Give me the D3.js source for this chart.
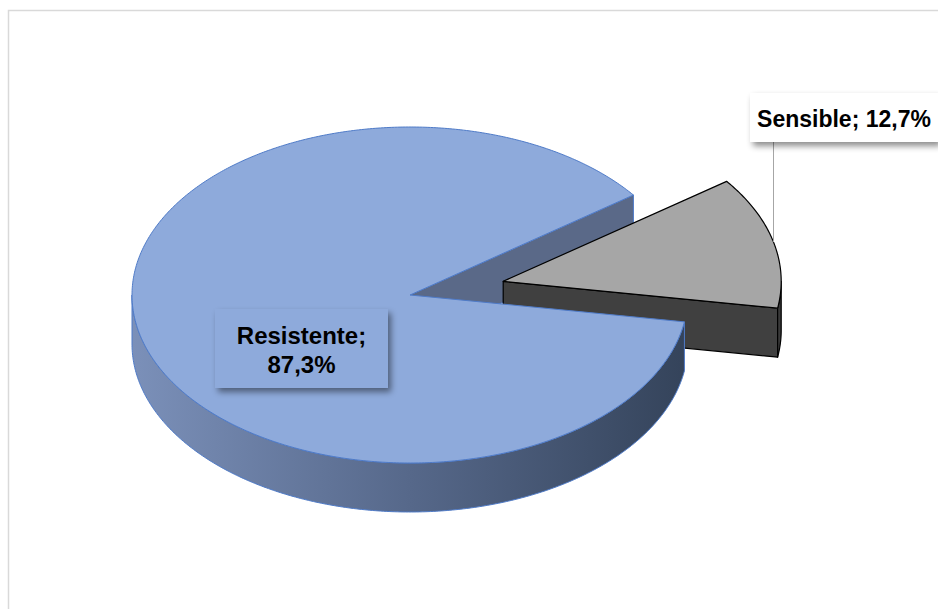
<!DOCTYPE html>
<html>
<head>
<meta charset="utf-8">
<script src="https://cdn.jsdelivr.net/npm/d3@7"></script>
<style>
  html, body { margin: 0; padding: 0; background: #fff; }
  svg { display: block; }
  text { font-family: "Liberation Sans", Arial, sans-serif; font-weight: bold; fill: #000; }
</style>
</head>
<body>
<svg id="chart" width="938" height="609"></svg>
<script>
// ---- data ----
const categories = ["Resistente", "Sensible"];
const values = [87.3, 12.7];
const valueLabels = ["87,3%", "12,7%"];
const exploded = [false, true];

// ---- layout ----
const W = 938, H = 609;
const cx = 410, cy = 295, rx = 278, ry = 168, depth = 49, explodeFrac = 0.345;
const startDeg = 99.2;

const svg = d3.select("#chart");
const defs = svg.append("defs");

// chart area border
svg.append("rect").attr("x", 8.5).attr("y", 10.5).attr("width", 960).attr("height", 640)
  .attr("fill", "#fff").attr("stroke", "#d9d9d9").attr("stroke-width", 1.5);

const shadow = defs.append("filter").attr("id", "shadow")
  .attr("x", "-20%").attr("y", "-30%").attr("width", "140%").attr("height", "170%");
shadow.append("feDropShadow").attr("dx", 3).attr("dy", 4).attr("stdDeviation", 3)
  .attr("flood-color", "#000").attr("flood-opacity", 0.45);

const gradB = defs.append("linearGradient").attr("id", "sideBlue")
  .attr("gradientUnits", "userSpaceOnUse").attr("x1", cx - rx).attr("x2", cx + rx).attr("y1", 0).attr("y2", 0);
gradB.append("stop").attr("offset", 0).attr("stop-color", "#7b90b9");
gradB.append("stop").attr("offset", 0.5).attr("stop-color", "#56688a");
gradB.append("stop").attr("offset", 1).attr("stop-color", "#34435a");

const styles = [
  { top: "#8eaadb", side: "url(#sideBlue)", cut: "#5a6988", stroke: "#4f7bc8", sw: 1 },
  { top: "#a6a6a6", side: "#3a3a3a", cut: "#404040", stroke: "#000", sw: 1.2 }
];

const pie = d3.pie().sort(null).value(d => d)
  .startAngle(startDeg * Math.PI / 180).endAngle(startDeg * Math.PI / 180 + 2 * Math.PI);
const arcs = pie(values);

const line = d3.line();
function pt(c, a, dz) { return [c[0] + rx * Math.sin(a), c[1] - ry * Math.cos(a) + dz]; }
function arcPts(c, a0, a1, dz) {
  const n = Math.max(2, Math.ceil(Math.abs(a1 - a0) / 0.01));
  return d3.range(n + 1).map(i => pt(c, a0 + (a1 - a0) * i / n, dz));
}
function centerOf(d, i) {
  if (!exploded[i]) return [cx, cy];
  const m = (d.startAngle + d.endAngle) / 2;
  return [cx + explodeFrac * rx * Math.sin(m), cy - explodeFrac * ry * Math.cos(m)];
}
function topPath(c, d) {
  return line([c, ...arcPts(c, d.startAngle, d.endAngle, 0)]) + "Z";
}
function sidePaths(c, d) {
  const out = [];
  for (let k = -1; k <= 2; k++) {
    const lo = Math.PI / 2 + 2 * Math.PI * k, hi = 3 * Math.PI / 2 + 2 * Math.PI * k;
    const s = Math.max(lo, d.startAngle), e = Math.min(hi, d.endAngle);
    if (e > s) out.push(line([...arcPts(c, s, e, 0), ...arcPts(c, e, s, depth)]) + "Z");
  }
  return out;
}
function cutPath(c, a) {
  const p = pt(c, a, 0);
  return line([c, p, [p[0], p[1] + depth], [c[0], c[1] + depth]]) + "Z";
}
function cutFaces(c, d) {
  const out = [];
  if (Math.sin(d.endAngle) > 0) out.push(cutPath(c, d.endAngle));
  if (Math.sin(d.startAngle) < 0) out.push(cutPath(c, d.startAngle));
  return out;
}

const g = svg.append("g");
function drawFaces(list, st, fill) {
  list.forEach(p => g.append("path").attr("d", p).attr("fill", fill)
    .attr("stroke", st.stroke).attr("stroke-width", st.sw).attr("stroke-linejoin", "round"));
}
// layer 1: cut faces of non-exploded slices
arcs.forEach((d, i) => { if (!exploded[i]) drawFaces(cutFaces(centerOf(d, i), d), styles[i], styles[i].cut); });
// layer 2: exploded slices whole
arcs.forEach((d, i) => {
  if (!exploded[i]) return;
  const c = centerOf(d, i);
  drawFaces(cutFaces(c, d), styles[i], styles[i].cut);
  drawFaces(sidePaths(c, d), styles[i], styles[i].side);
  drawFaces([topPath(c, d)], styles[i], styles[i].top);
});
// layer 3/4: sides then tops of non-exploded
arcs.forEach((d, i) => { if (!exploded[i]) drawFaces(sidePaths(centerOf(d, i), d), styles[i], styles[i].side); });
arcs.forEach((d, i) => { if (!exploded[i]) drawFaces([topPath(centerOf(d, i), d)], styles[i], styles[i].top); });

// ---- labels ----
// Resistente label (inside)
const lb0 = { x: 215, y: 309, w: 173, h: 79 };
svg.append("rect").attr("x", lb0.x).attr("y", lb0.y).attr("width", lb0.w).attr("height", lb0.h)
  .attr("fill", styles[0].top).attr("filter", "url(#shadow)");
const t0 = svg.append("text").attr("text-anchor", "middle").attr("font-size", 24);
t0.append("tspan").attr("x", 301.5).attr("y", 344).text(categories[0] + ";");
t0.append("tspan").attr("x", 301.5).attr("y", 373).text(valueLabels[0]);

// Sensible label (outside, with leader)
const lb1 = { x: 750, y: 93, w: 188, h: 49 };
const c1 = centerOf(arcs[1], 1);
const lx = 773.5;
const sa = (lx - c1[0]) / rx;
const ly = c1[1] - ry * Math.sqrt(Math.max(0, 1 - sa * sa));
svg.append("line").attr("x1", lx).attr("x2", lx).attr("y1", lb1.y + lb1.h).attr("y2", ly)
  .attr("stroke", "#a6a6a6").attr("stroke-width", 1);
svg.append("rect").attr("x", lb1.x).attr("y", lb1.y).attr("width", lb1.w).attr("height", lb1.h)
  .attr("fill", "#fff").attr("filter", "url(#shadow)");
svg.append("text").attr("text-anchor", "middle").attr("font-size", 23)
  .attr("x", 844).attr("y", 127).text(categories[1] + "; " + valueLabels[1]);
</script>
</body>
</html>
